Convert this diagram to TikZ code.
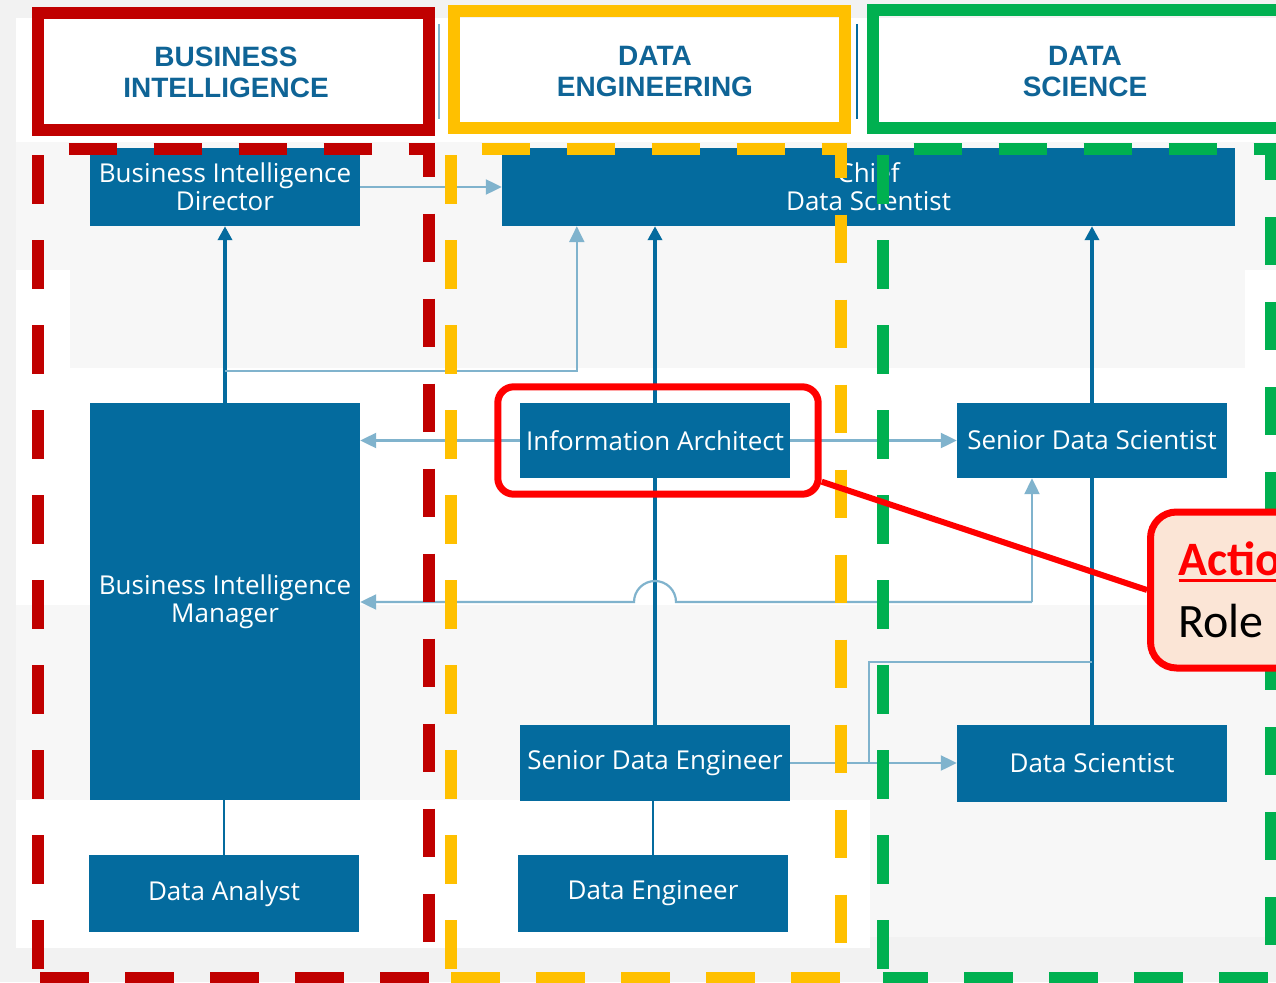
\documentclass[tikz,border=0pt]{standalone}
\usepackage{fontspec}
\usetikzlibrary{calc, positioning, arrows.meta, fit, shapes}
\newfontfamily\boxfont{Open Sans}
\newfontfamily\headfont{Liberation Sans}
\newfontfamily\notefont{Carlito}
\newcommand{\noteunder}[1]{\setbox0\hbox{#1}\rlap{\rule[-6pt]{\wd0}{3pt}}\box0}
\definecolor{roleblue}{HTML}{046B9E}
\definecolor{linkblue}{HTML}{80B3CD}
\definecolor{headblue}{HTML}{0F6496}
\definecolor{bired}{HTML}{C00000}
\definecolor{deyellow}{HTML}{FFC000}
\definecolor{dsgreen}{HTML}{00B050}
\definecolor{bandgrey}{HTML}{F7F7F7}
\definecolor{pagegrey}{HTML}{F2F2F2}
\definecolor{notefill}{HTML}{FBE5D6}

\begin{document}
\begin{tikzpicture}[x=1pt, y=-1pt,
  rolebox/.style={fill=roleblue, text=white, font=\boxfont\fontsize{26}{28}\selectfont, align=center, inner sep=0pt, minimum width=270pt, minimum height=76pt},
  colhead/.style={text=headblue, font=\headfont\fontsize{28}{31}\selectfont\bfseries, align=center},
  headframe/.style={line width=12pt},
  colframe/.style={line width=12pt, dash pattern=on 48.5pt off 36.5pt, dash phase=75.5pt},
  uplink/.style={draw=roleblue, line width=3.5pt},
  crosslink/.style={draw=linkblue, line width=2.2pt},
  mtip/.style={-{Triangle[length=14pt,width=14pt]}},
  ltip/.style={-{Triangle[length=16pt,width=15pt]}}]
  \useasboundingbox (0,0) rectangle (1276,982);
  % background bands
  \fill[pagegrey] (0,0) rectangle (1276,982);
  \fill[white] (16,18) rectangle (1276,142);
  \fill[bandgrey] (16,142) rectangle (1276,270);
  \fill[white] (16,270) rectangle (1276,368);
  \fill[bandgrey] (70,270) rectangle (1245,368);
  \fill[white] (16,368) rectangle (1276,605);
  \fill[bandgrey] (16,605) rectangle (1276,800);
  \fill[bandgrey] (870,800) rectangle (1276,937);
  \fill[white] (16,800) rectangle (870,948);

  % column headers
  \draw[linkblue, line width=2pt] (439,24) -- (439,119);
  \draw[roleblue, line width=2pt] (857,24) -- (857,119);
  \draw[bired, headframe] (38,13) rectangle (429,130);
  \draw[deyellow, headframe] (454,11) rectangle (845,128);
  \draw[dsgreen, headframe] (873,10) rectangle (1300,128);
  \node[colhead] (bihead) at (226,72) {BUSINESS\\INTELLIGENCE};
  \node[colhead] (dehead) at (655,72) {DATA\\ENGINEERING};
  \node[colhead] (dshead) at (1085,72) {DATA\\SCIENCE};

  % roles
  \node[rolebox, minimum height=78pt] (bid) at (225,187) {Business Intelligence\\Director};
  \node[rolebox, minimum width=733pt, minimum height=78pt] (chief) at (868.5,187) {Chief\\Data Scientist};
  \node[rolebox, minimum height=397pt] (bim) at (225,601.5) {Business Intelligence\\Manager};
  \node[rolebox, minimum height=77pt] (analyst) at (224,893.5) {Data Analyst};
  \node[rolebox, minimum height=75pt] (ia) at (655,440.5) {Information Architect};
  \node[rolebox] (sde) at (655,763) {Senior Data Engineer};
  \node[rolebox, minimum height=77pt] (de) at (653,893.5) {Data Engineer};
  \node[rolebox, minimum height=75pt] (sds) at (1092,440.5) {Senior Data Scientist};
  \node[rolebox, minimum height=77pt] (ds) at (1092,763.5) {Data Scientist};

  \coordinate (bijoin) at (225,371);
  \coordinate (hop) at (1032,602);
  \coordinate (sdefork) at (869,763);
  \coordinate (dsfork) at (1092,662);

  % reporting lines
  \draw[uplink, mtip] (bim) -- (bid);
  \draw[uplink, line width=2.5pt] (analyst.north) -- (analyst.north |- bim.south);
  \draw[uplink] (sde) -- (ia);
  \draw[uplink, mtip] (ia.north) -- (ia.north |- chief.south);
  \draw[uplink, line width=2.5pt] (de.north) -- (de.north |- sde.south);
  \draw[uplink] (ds) -- (sds);
  \draw[uplink, mtip] (sds.north) -- (sds.north |- chief.south);

  \draw[crosslink, ltip] (bid.east) -- (bid.east -| chief.west);
  \draw[crosslink, ltip] (bijoin) -| ([xshift=75pt]chief.south west);
  \draw[crosslink, ltip] (ia.west) -- (ia.west -| bim.east);
  \draw[crosslink, ltip] (ia.east) -- (ia.east -| sds.west);
  \draw[crosslink, ltip] (hop) -- (hop |- sds.south);
  \draw[crosslink, ltip] (hop) -- ([xshift=21pt]ia.south |- hop) arc[start angle=0, end angle=180, radius=21pt] -- (bim.east |- hop);
  \draw[crosslink, ltip] (sde.east) -- (sde.east -| ds.west);
  \draw[crosslink] (sdefork) |- (dsfork);

  % column frames
  \draw[bired, colframe] (38,978) -- (38,149) -- (429,149) -- (429,978) -- cycle;
  \draw[deyellow, colframe] (451,978) -- (451,149) -- (841,149) -- (841,978) -- cycle;
  \draw[dsgreen, colframe] (883,978) -- (883,149) -- (1271,149) -- (1271,978) -- cycle;

  % callout
  \node[draw=red, line width=7pt, rounded corners=16pt, inner xsep=25pt, inner ysep=16pt, xshift=3pt, fit=(ia)] (focus) {};
  \node[draw=red, line width=7pt, fill=notefill, rounded corners=26pt, anchor=west, minimum height=156pt, text width=250pt, inner xsep=28pt, align=left, font=\notefont\fontsize{48}{62}\selectfont] (note) at (1147,590) {{\color{red}\bfseries\noteunder{Action}}\\Role};
  \draw[red, line width=6pt] ([yshift=16pt]focus.south east) -- (note.west);
\end{tikzpicture}
\end{document}
